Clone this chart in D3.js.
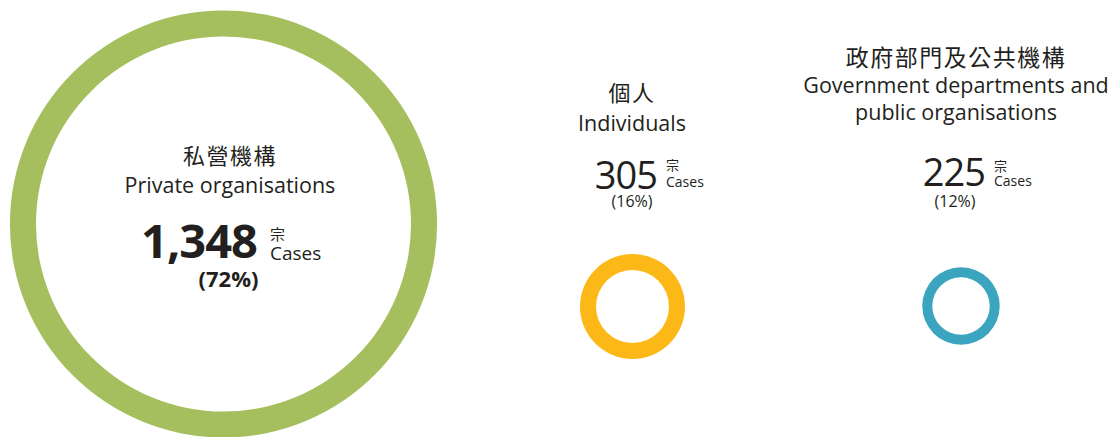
<!DOCTYPE html>
<html>
<head>
<meta charset="utf-8">
<script src="https://cdnjs.cloudflare.com/ajax/libs/d3/7.8.5/d3.min.js"></script>
<style>
  html, body { margin: 0; padding: 0; background: #ffffff; }
  text { font-family: "Open Sans", "Noto Sans CJK TC", sans-serif; fill: #231f20; }
  .zh { font-family: "Noto Sans CJK TC", sans-serif; }
</style>
</head>
<body>
<svg id="chart"></svg>
<script>
// data
var categoriesZh = ["私營機構", "個人", "政府部門及公共機構"];
var categoriesEn = [["Private organisations"], ["Individuals"], ["Government departments and", "public organisations"]];
var cases = [1348, 305, 225];
var percents = [72, 16, 12];
var unitZh = "宗";
var unitEn = "Cases";

var width = 1119, height = 437;

var svg = d3.select("#chart")
    .attr("width", width)
    .attr("height", height);

// ring size from case count
var radius = d3.scaleLinear()
    .domain([0, 305, 1348])
    .range([0, 52.5, 213.5]);
var thickness = d3.scaleLinear()
    .domain([225, 305, 1348])
    .range([10, 16, 26]);

var color = d3.scaleOrdinal()
    .domain(categoriesZh)
    .range(["#a5bf5e", "#fcb817", "#3ba5bf"]);

// where each block sits
var layout = [
    {cx: 223.5, cy: 224, tx: 230, zhY: 164, enY: [193], zhSize: 22, zhSpace: 1.5, enSize: 21.5,
     numX: 257, numY: 258, numSize: 47, bold: true,
     unitX: 270, unitZhY: 240, unitZhSize: 15, unitEnY: 260, unitEnSize: 19,
     pctX: 228.5, pctY: 287, pctSize: 22},
    {cx: 632.5, cy: 306.5, tx: 632, zhY: 101, enY: [131], zhSize: 22, zhSpace: 1.5, enSize: 21.5,
     numX: 657, numY: 189, numSize: 38, bold: false,
     unitX: 666, unitZhY: 169.5, unitZhSize: 13, unitEnY: 187, unitEnSize: 14,
     pctX: 632, pctY: 207, pctSize: 16},
    {cx: 961, cy: 306, tx: 956, zhY: 66, enY: [93, 120], zhSize: 23, zhSpace: 1.5, enSize: 21.5,
     numX: 985, numY: 186, numSize: 38, bold: false,
     unitX: 994, unitZhY: 171, unitZhSize: 13, unitEnY: 186, unitEnSize: 14,
     pctX: 955, pctY: 207, pctSize: 16}
];

var items = cases.map(function(v, i) {
    return {zh: categoriesZh[i], en: categoriesEn[i], value: v, pct: percents[i], pos: layout[i]};
});

var arc = d3.arc()
    .startAngle(0)
    .endAngle(2 * Math.PI)
    .outerRadius(function(d) { return radius(d.value); })
    .innerRadius(function(d) { return radius(d.value) - thickness(d.value); });

svg.selectAll("path.ring")
    .data(items)
    .enter()
    .append("path")
    .attr("class", "ring")
    .attr("transform", function(d) { return "translate(" + d.pos.cx + "," + d.pos.cy + ")"; })
    .attr("d", arc)
    .style("fill", function(d) { return color(d.zh); });

var fmt = d3.format(",");

items.forEach(function(d) {
    var p = d.pos;
    var g = svg.append("g");

    g.append("text")
        .attr("class", "zh")
        .attr("x", p.tx)
        .attr("y", p.zhY)
        .attr("text-anchor", "middle")
        .attr("font-size", p.zhSize + "px")
        .attr("letter-spacing", p.zhSpace + "px")
        .text(d.zh);

    d.en.forEach(function(line, j) {
        g.append("text")
            .attr("x", p.tx)
            .attr("y", p.enY[j])
            .attr("text-anchor", "middle")
            .attr("font-size", p.enSize + "px")
            .text(line);
    });

    g.append("text")
        .attr("x", p.numX)
        .attr("y", p.numY)
        .attr("text-anchor", "end")
        .attr("font-size", p.numSize + "px")
        .attr("font-weight", p.bold ? "bold" : "normal")
        .attr("letter-spacing", "-1px")
        .text(fmt(d.value));

    g.append("text")
        .attr("class", "zh")
        .attr("x", p.unitX)
        .attr("y", p.unitZhY)
        .attr("font-size", p.unitZhSize + "px")
        .text(unitZh);

    g.append("text")
        .attr("x", p.unitX)
        .attr("y", p.unitEnY)
        .attr("font-size", p.unitEnSize + "px")
        .text(unitEn);

    g.append("text")
        .attr("x", p.pctX)
        .attr("y", p.pctY)
        .attr("text-anchor", "middle")
        .attr("font-size", p.pctSize + "px")
        .attr("font-weight", p.bold ? "bold" : "normal")
        .text("(" + d.pct + "%)");
});
</script>
</body>
</html>
